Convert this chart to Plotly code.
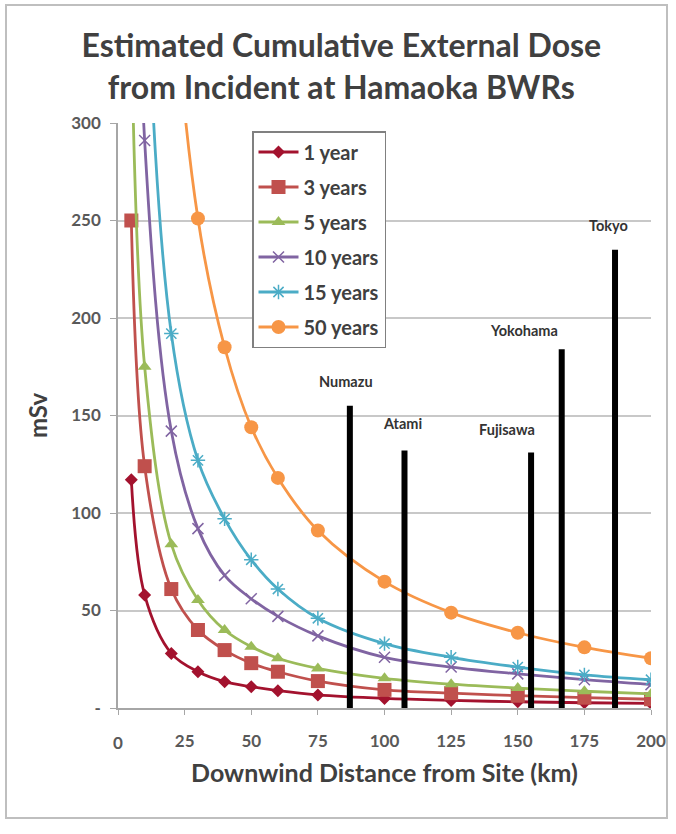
import plotly.graph_objects as go

# ---------------- data ----------------
distance_km = [5, 10, 20, 30, 40, 50, 60, 75, 100, 125, 150, 175, 200]

series_names = ["1 year", "3 years", "5 years", "10 years", "15 years", "50 years"]
dose_1yr = [117, 58, 28, 18.6, 13.5, 10.9, 8.9, 6.7, 4.9, 3.9, 3.2, 2.7, 2.4]
dose_3yr = [250, 124, 61, 40, 29.7, 23, 18.6, 13.8, 9.3, 7.6, 6.3, 5.3, 4.5]
dose_5yr = [350, 175, 84, 55.4, 40, 31.4, 25.5, 20.3, 15.2, 12.2, 10.2, 8.6, 7.2]
dose_10yr = [580, 291, 142, 92, 68, 56, 47, 37, 26, 21, 17.5, 14.5, 12]
dose_15yr = [800, 400, 192, 127, 97, 76, 61, 46, 33, 26, 21, 17, 14.5]
dose_50yr = [1600, 800, 390, 251, 185, 144, 118, 91, 64.8, 48.9, 38.6, 31.1, 25.5]

cities = ["Numazu", "Atami", "Fujisawa", "Yokohama", "Tokyo"]
city_distance_km = [87, 107.5, 155, 166.5, 186.5]
city_bar_height = [155, 132, 131, 184, 235]

y_tick_values = [0, 50, 100, 150, 200, 250, 300]
y_tick_labels = ["-", "50", "100", "150", "200", "250", "300"]
x_tick_values = [0, 25, 50, 75, 100, 125, 150, 175, 200]
x_tick_labels = ["0", "25", "50", "75", "100", "125", "150", "175", "200"]

# ---------------- styles ----------------
series_data = [dose_1yr, dose_3yr, dose_5yr, dose_10yr, dose_15yr, dose_50yr]
colors = ["#A3122E", "#C0504D", "#9BBB59", "#8064A2", "#4BACC6", "#F79646"]
symbols = ["diamond", "square", "triangle-up", "x-thin-open", "asterisk-open", "circle"]
msizes = [10, 14, 12, 11, 12, 14]
label_xshift = [-4, -2, -24, -38, -7]
label_yshift = [24, 27, 23, 19, 24]

FONT = "Lato, 'Open Sans', sans-serif"
TICKFONT = dict(family=FONT, size=17, color="#595959", weight="bold")
W, H = 676, 834
ML, MR, MT, MB = 118, 25, 123, 126
PW, PH = W - ML - MR, H - MT - MB

fig = go.Figure()

for name, ys, c, s, ms in zip(series_names, series_data, colors, symbols, msizes):
    marker = dict(symbol=s, size=ms, color=c, line=dict(color=c, width=1.5 if "open" in s else 0))
    fig.add_trace(go.Scatter(
        x=distance_km, y=ys, name=name, mode="lines+markers",
        line=dict(color=c, width=2.8, shape="spline", smoothing=1.0),
        marker=marker, legendgroup=name, cliponaxis=True,
    ))

# city bars
bx, by = [], []
for d, h in zip(city_distance_km, city_bar_height):
    bx += [d, d, None]
    by += [0, h, None]
fig.add_trace(go.Scatter(x=bx, y=by, mode="lines", line=dict(color="#000000", width=6),
                         showlegend=False, hoverinfo="skip"))

for name, d, h, xs, ysh in zip(cities, city_distance_km, city_bar_height, label_xshift, label_yshift):
    fig.add_annotation(x=d, y=h, text=name, showarrow=False, xshift=xs, yshift=ysh,
                       xanchor="center", yanchor="middle",
                       font=dict(family=FONT, size=14.5, color="#333333", weight="bold"))

# the first x tick label (at the axis corner) is drawn as an annotation so it is always shown
fig.add_annotation(x=x_tick_values[0], y=y_tick_values[0], text=x_tick_labels[0],
                   showarrow=False, xanchor="center", yanchor="middle", yshift=-34,
                   font=TICKFONT)

# outer border
def px_to_paper_x(px):
    return (px - ML) / PW

def px_to_paper_y(py):
    return (H - MB - py) / PH

fig.add_shape(type="rect", xref="paper", yref="paper",
              x0=px_to_paper_x(6), x1=px_to_paper_x(667),
              y0=px_to_paper_y(818), y1=px_to_paper_y(5),
              line=dict(color="#BFBFBF", width=2), layer="below")

fig.update_layout(
    width=W, height=H,
    margin=dict(l=ML, r=MR, t=MT, b=MB, autoexpand=False),
    paper_bgcolor="white", plot_bgcolor="white",
    title=dict(text="Estimated Cumulative External Dose<br>from Incident at Hamaoka BWRs",
               x=0.505, xanchor="center", y=1 - 57 / H, yanchor="middle", yref="container",
               font=dict(family=FONT, size=32, color="#404040", weight="bold")),
    showlegend=True,
    legend=dict(x=px_to_paper_x(252), y=px_to_paper_y(131), xanchor="left", yanchor="top",
                bgcolor="white", bordercolor="#808080", borderwidth=1.5,
                font=dict(family=FONT, size=20, color="#404040", weight="bold"),
                tracegroupgap=6, itemwidth=40),
    xaxis=dict(range=[0, 200], tickmode="array", tickvals=x_tick_values,
               ticktext=[""] + x_tick_labels[1:],
               showgrid=False, automargin=False, ticklabeloverflow="allow",
               showline=True, linecolor="#A6A6A6", linewidth=1.5,
               ticks="outside", ticklen=5, tickcolor="#A6A6A6", ticklabelstandoff=12,
               tickfont=TICKFONT,
               title=dict(text="Downwind Distance from Site (km)", standoff=14,
                          font=dict(family=FONT, size=25, color="#404040", weight="bold")),
               zeroline=False),
    yaxis=dict(range=[0, 300], tickmode="array", tickvals=y_tick_values, ticktext=y_tick_labels,
               showgrid=True, gridcolor="#C8C8C8", gridwidth=2, automargin=False,
               ticklabeloverflow="allow",
               showline=True, linecolor="#A6A6A6", linewidth=1.5,
               ticks="outside", ticklen=6, tickcolor="#A6A6A6", ticklabelstandoff=6,
               tickfont=TICKFONT,
               title=dict(text="mSv", standoff=17,
                          font=dict(family=FONT, size=24, color="#404040", weight="bold")),
               zeroline=False),
)

fig.write_html(
    "out.html", config={"displayModeBar": False},
    post_script="document.body.style.margin='0';document.body.style.padding='0';",
)
